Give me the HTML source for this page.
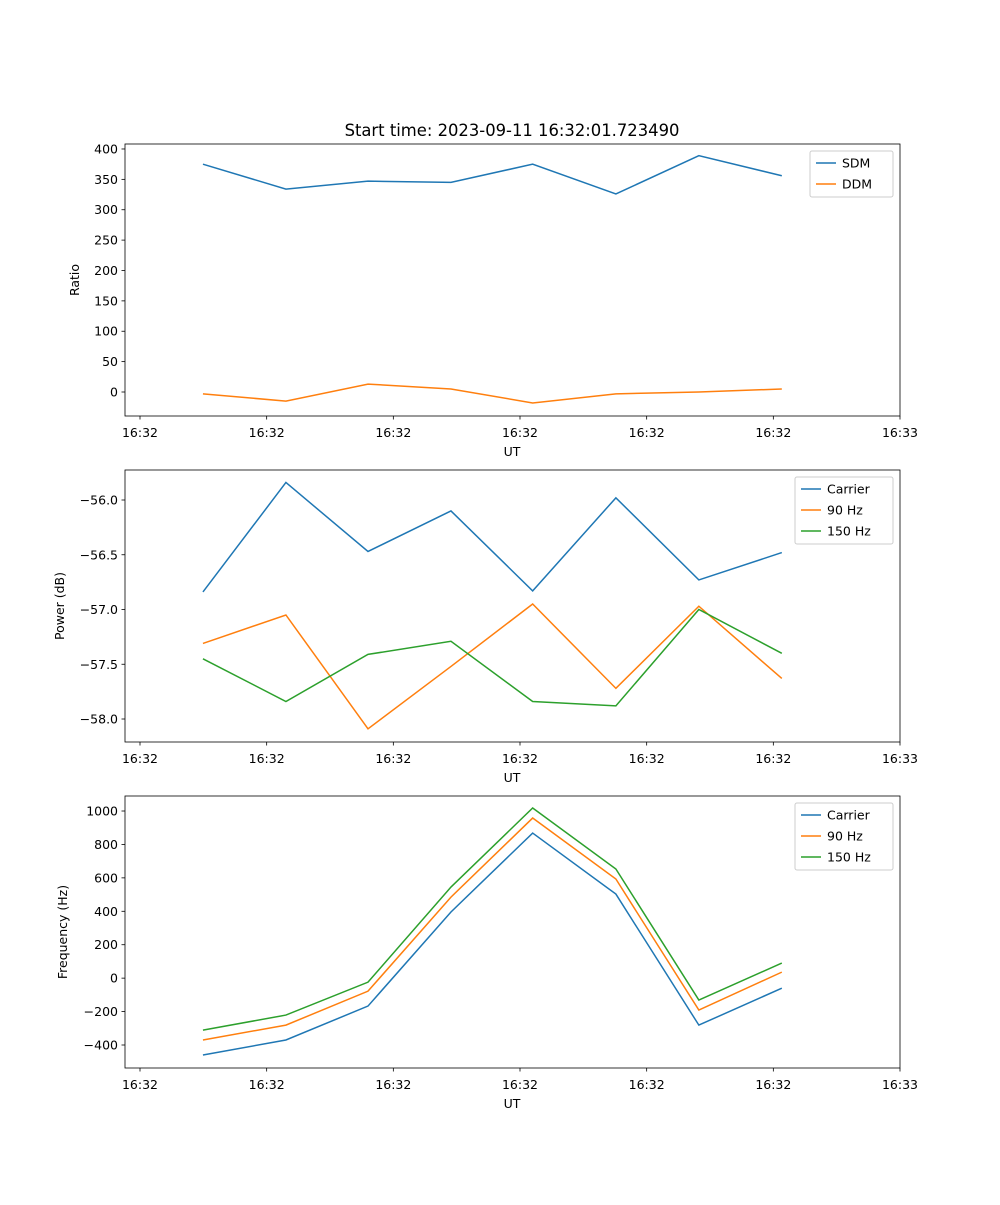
<!DOCTYPE html>
<html><head><meta charset="utf-8"><style>
body{margin:0;background:#fff}
svg{font-family:"DejaVu Sans","Liberation Sans",sans-serif;font-size:12.5px}
</style></head><body>
<svg id="fig" width="1000" height="1200" xmlns="http://www.w3.org/2000/svg">
<rect width="1000" height="1200" fill="#fff"/>
<text x="512" y="136" text-anchor="middle" font-size="16.4">Start time: 2023-09-11 16:32:01.723490</text>
</svg>
<script>
const times=[4.97,11.52,18.0,24.55,31.0,37.57,44.12,50.67];
const xTicks=[0,10,20,30,40,50,60];
const xTickLabels=["16:32","16:32","16:32","16:32","16:32","16:32","16:33"];
const sdm=[375,334,347,345,375,326,389,356];
const ddm=[-3,-15,13,5,-18,-3,0,5];
const pCarrier=[-56.84,-55.84,-56.47,-56.10,-56.83,-55.98,-56.73,-56.48];
const p90=[-57.31,-57.05,-58.09,-57.52,-56.95,-57.72,-56.97,-57.63];
const p150=[-57.45,-57.84,-57.41,-57.29,-57.84,-57.88,-57.00,-57.40];
const fCarrier=[-460,-370,-167,396,868,503,-281,-60];
const f90=[-370,-281,-78,485,958,593,-191,36];
const f150=[-311,-221,-24,545,1018,653,-131,90];
const ticks1=[0,50,100,150,200,250,300,350,400];
const ticks2=[-58.0,-57.5,-57.0,-56.5,-56.0];
const ticks3=[-400,-200,0,200,400,600,800,1000];
const NS="http://www.w3.org/2000/svg";
const svg=document.getElementById('fig');
function mk(tag,attrs,parent){const e=document.createElementNS(NS,tag);for(const k in attrs)e.setAttribute(k,attrs[k]);(parent||svg).appendChild(e);return e;}
const L=125,R=900;
function xs(t){return 140+(t-0)*(900-140)/60;}
const panels=[
 {top:144,bot:416,ymin:-39.5,ymax:408.2,ticks:ticks1,fmt:v=>String(v),ylabel:"Ratio",ylx:79,
  series:[["SDM",sdm,"#1f77b4"],["DDM",ddm,"#ff7f0e"]],leg:{x:810,y:151,w:83}},
 {top:470,bot:742,ymin:-58.21,ymax:-55.726,ticks:ticks2,fmt:v=>v.toFixed(1).replace('-','\u2212'),ylabel:"Power (dB)",ylx:64,
  series:[["Carrier",pCarrier,"#1f77b4"],["90 Hz",p90,"#ff7f0e"],["150 Hz",p150,"#2ca02c"]],leg:{x:795,y:477,w:98}},
 {top:796,bot:1068,ymin:-537.6,ymax:1089.8,ticks:ticks3,fmt:v=>String(v).replace('-','\u2212'),ylabel:"Frequency (Hz)",ylx:67,
  series:[["Carrier",fCarrier,"#1f77b4"],["90 Hz",f90,"#ff7f0e"],["150 Hz",f150,"#2ca02c"]],leg:{x:795,y:803,w:98}}
];
panels.forEach((p,pi)=>{
 const g=mk('g',{});
 
 
 const ys=v=>p.bot-(v-p.ymin)*(p.bot-p.top)/(p.ymax-p.ymin);
 p.series.forEach(s=>{
  const pl=mk('polyline',{points:times.map((t,i)=>xs(t)+','+ys(s[1][i])).join(' '),fill:'none',stroke:s[2],'stroke-width':1.5},g);
  
  
 });
 mk('rect',{x:L,y:p.top,width:R-L,height:p.bot-p.top,fill:'none',stroke:'#000','stroke-width':0.8},g);
 xTicks.forEach((t,i)=>{
  mk('line',{x1:xs(t),x2:xs(t),y1:p.bot,y2:p.bot+3.5,stroke:'#000','stroke-width':0.8},g);
  const tx=mk('text',{x:xs(t),y:p.bot+21,'text-anchor':'middle'},g);tx.textContent=xTickLabels[i];
  
  
 });
 p.ticks.forEach(v=>{
  mk('line',{x1:L-3.5,x2:L,y1:ys(v),y2:ys(v),stroke:'#000','stroke-width':0.8},g);
  const tx=mk('text',{x:L-7,y:ys(v)+4.5,'text-anchor':'end'},g);tx.textContent=p.fmt(v);
  
  
 });
 const xl=mk('text',{x:512,y:p.bot+40,'text-anchor':'middle'},g);xl.textContent='UT';
 
 
 const yc=(p.top+p.bot)/2;
 const yl=mk('text',{x:p.ylx,y:yc,'text-anchor':'middle',transform:`rotate(-90 ${p.ylx} ${yc})`},g);yl.textContent=p.ylabel;
 
 
 const lg=mk('g',{},g);
 
 
 const n=p.series.length;
 mk('rect',{x:p.leg.x,y:p.leg.y,width:p.leg.w,height:n*21+4,rx:2,fill:'#fff',stroke:'#ccc','stroke-width':1},lg);
 p.series.forEach((s,i)=>{
  const yy=p.leg.y+12+i*21;
  mk('line',{x1:p.leg.x+6,x2:p.leg.x+26,y1:yy,y2:yy,stroke:s[2],'stroke-width':1.5},lg);
  const t=mk('text',{x:p.leg.x+32,y:yy+4.5},lg);t.textContent=s[0];
  
  
 });
});
</script>
</body></html>
